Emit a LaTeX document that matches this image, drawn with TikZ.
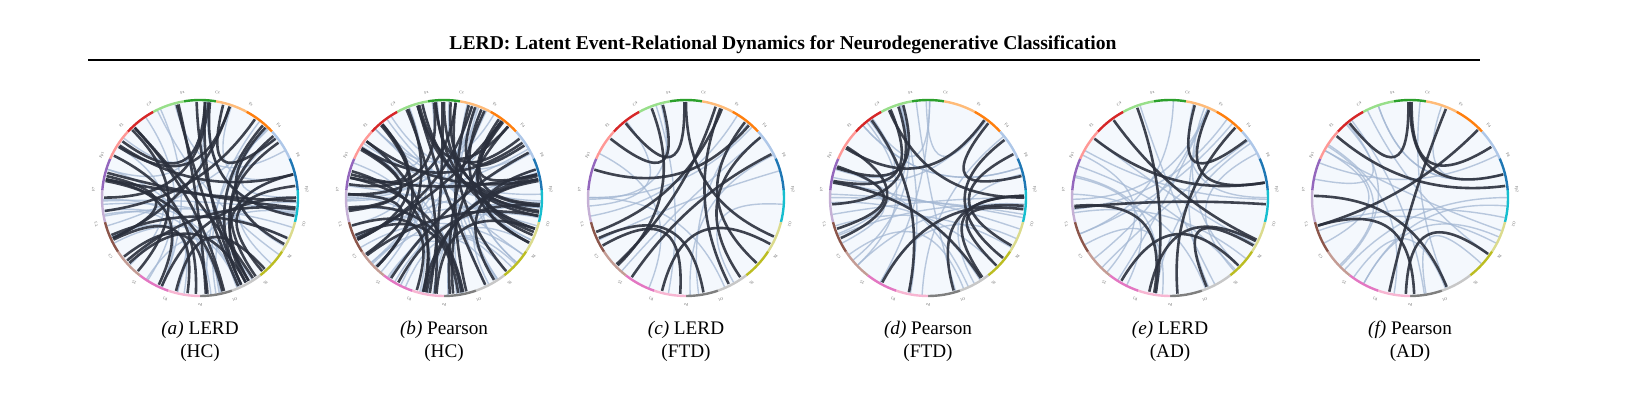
\documentclass[tikz,border=0pt]{standalone}
\usepackage{fontspec}
\setmainfont{Liberation Serif}
\usepackage{tikz}
\usetikzlibrary{positioning}

\definecolor{cgreen}{HTML}{2CA02C}\definecolor{clgreen}{HTML}{98DF8A}
\definecolor{corange}{HTML}{FF7F0E}\definecolor{clorange}{HTML}{FFBB78}
\definecolor{cblue}{HTML}{1F77B4}\definecolor{clblue}{HTML}{AEC7E8}
\definecolor{ccyan}{HTML}{17BECF}\definecolor{clolive}{HTML}{DBDB8D}
\definecolor{colive}{HTML}{BCBD22}\definecolor{clgrey}{HTML}{C7C7C7}
\definecolor{cgrey}{HTML}{7F7F7F}\definecolor{clpink}{HTML}{F7B6D2}
\definecolor{cpink}{HTML}{E377C2}\definecolor{clbrown}{HTML}{C49C94}
\definecolor{cbrown}{HTML}{8C564B}\definecolor{clpurple}{HTML}{C5B0D5}
\definecolor{cpurple}{HTML}{9467BD}\definecolor{clred}{HTML}{FF9896}
\definecolor{cred}{HTML}{D62728}
\definecolor{chorddark}{HTML}{2B303D}
\definecolor{chordlight}{HTML}{A3B7D3}
\definecolor{diskfill}{HTML}{F4F8FD}

\tikzset{
    dark chord/.style={chorddark, line width=1.3pt, opacity=0.9},
    light chord/.style={chordlight, line width=0.7pt, opacity=0.75},
    ring arc/.style={line width=1.2pt},
    channel/.style={font=\fontsize{2}{2}\selectfont, text=black!60},
    caption/.style={font=\fontsize{9.6}{11.5}\selectfont, align=center}
}

\begin{document}
\begin{tikzpicture}[x=0.5pt, y=0.5pt]
    \useasboundingbox (0,0) rectangle (1639,407);

    % title and rule
    \node[font=\fontsize{9.8}{11}\selectfont\bfseries] (title) at (783,362)
        {LERD: Latent Event-Relational Dynamics for Neurodegenerative Classification};
    \draw[line width=0.7pt] (88,347) -- (1480,347);

    % chord panels
    \foreach \cx/\seed/\nd/\nl/\tag/\meth/\grp in {
            200/11/34/30/a/LERD/HC,
            444/23/48/45/b/Pearson/HC,
            686/35/14/12/c/LERD/FTD,
            928/47/16/28/d/Pearson/FTD,
            1170/59/11/22/e/LERD/AD,
            1410/71/9/20/f/Pearson/AD} {
        \begin{scope}[shift={(\cx,209)}]
            \fill[diskfill] (0,0) circle (97);
            \pgfmathsetseed{\seed}
            \foreach \k in {1,...,\nl} {
                \pgfmathsetmacro\ta{90-random(0,18)*18.947+random(-7,7)}
                \pgfmathsetmacro\tb{\ta-random(2,17)*18.947}
                \draw[light chord] (\ta:97) .. controls (\ta:30) and (\tb:30) .. (\tb:97);
            }
            \foreach \k in {1,...,\nd} {
                \pgfmathsetmacro\ta{90-random(0,18)*18.947+random(-7,7)}
                \pgfmathsetmacro\tb{\ta-random(2,17)*18.947}
                \draw[dark chord] (\ta:96) .. controls (\ta:30) and (\tb:30) .. (\tb:96);
            }
            % colored ring with channel labels
            \foreach \col [count=\i from 0] in {cgreen,clorange,corange,clblue,cblue,ccyan,
                    clolive,colive,clgrey,cgrey,clpink,cpink,clbrown,cbrown,clpurple,
                    cpurple,clred,cred,clgreen} {
                \pgfmathsetmacro\mid{90-\i*18.947}
                \draw[ring arc, \col] (\mid+9.47:98) arc[start angle=\mid+9.47, end angle=\mid-9.47, radius=98];
            }
            \foreach \lab [count=\i from 0] in {Cz,Fz,F4,F8,Fp2,O2,P4,T6,O1,Pz,
                    P3,T5,C3,T3,F7,Fp1,F3,C4,Fz} {
                \pgfmathsetmacro\mid{90-\i*18.947-9.47}
                \node[channel, rotate=\mid-90] at (\mid:107) {\lab};
            }
        \end{scope}
        \node[caption] (cap-\tag) at (\cx,66) {\textit{(\tag)} \meth\\(\grp)};
    }
\end{tikzpicture}
\end{document}
